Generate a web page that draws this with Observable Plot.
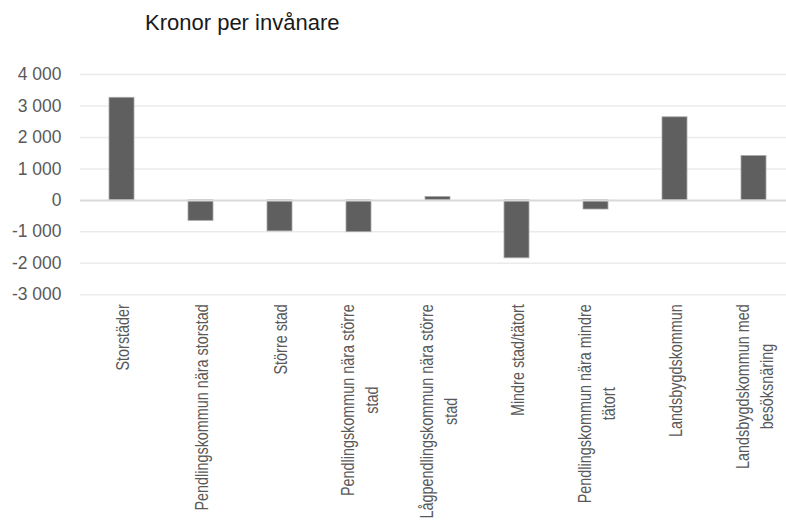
<!DOCTYPE html>
<html><head><meta charset="utf-8">
<script src="https://cdn.jsdelivr.net/npm/d3@7"></script>
<script src="https://cdn.jsdelivr.net/npm/@observablehq/plot@0.6"></script>
<style>
body{margin:0;background:#fff;}
#wrap{width:786px;height:523px;overflow:hidden;position:relative;}
#title{height:38px;padding-top:12px;padding-left:145px;font:22px/22px "Liberation Sans",Arial,sans-serif;color:#1a1a1a;box-sizing:content-box;}
svg{display:block;}
</style></head><body>
<div id="wrap"><div id="title">Kronor per invånare</div><div id="chart"></div></div>
<script>
const categories = [
  "Storstäder",
  "Pendlingskommun nära storstad",
  "Större stad",
  "Pendlingskommun nära större stad",
  "Lågpendlingskommun nära större stad",
  "Mindre stad/tätort",
  "Pendlingskommun nära mindre tätort",
  "Landsbygdskommun",
  "Landsbygdskommun med besöksnäring"
];
const tickLabels = [
  "Storstäder",
  "Pendlingskommun nära storstad",
  "Större stad",
  "Pendlingskommun nära större\nstad",
  "Lågpendlingskommun nära större\nstad",
  "Mindre stad/tätort",
  "Pendlingskommun nära mindre\ntätort",
  "Landsbygdskommun",
  "Landsbygdskommun med\nbesöksnäring"
];
const values = [3260, -650, -985, -1010, 110, -1840, -290, 2640, 1410];
const yTicks = [-3000, -2000, -1000, 0, 1000, 2000, 3000, 4000];

const data = categories.map((c, i) => ({category: c, value: values[i]}));
const fmt = d3.formatLocale({decimal: ",", thousands: " ", grouping: [3], currency: ["", ""], minus: "-"}).format(",");

const plot = Plot.plot({
  width: 786,
  height: 473,
  marginTop: 24,
  marginBottom: 228.7,
  marginLeft: 80,
  marginRight: 0,
  style: {fontFamily: "'Liberation Sans', Arial, sans-serif", background: "transparent"},
  x: {domain: categories, range: [80, 795.5], paddingInner: 0.686, paddingOuter: 0.343, align: 0.5, label: null},
  y: {domain: [-3000, 4000], label: null},
  marks: [
    Plot.ruleY(yTicks.filter(d => d !== 0), {stroke: "#ebebeb", strokeWidth: 1.5}),
    Plot.barY(data, {x: "category", y: "value", fill: "#5f5f5f", stroke: "#a8a8a8", strokeWidth: 0.8}),
    Plot.ruleY([0], {stroke: "#d9d9d9", strokeWidth: 2}),
    Plot.axisY({ticks: yTicks, tickFormat: fmt, tickSize: 0, tickPadding: 19, fontSize: 17.5, fill: "#595959", label: null}),
    Plot.axisX({tickSize: 0, tickFormat: d => tickLabels[categories.indexOf(d)], rotate: -90, label: null,
      textAnchor: "middle", lineAnchor: "middle", fontSize: 18, lineHeight: 1.3, fill: "#595959"})
  ]
});
document.getElementById("chart").append(plot);

const squeeze = 0.8;
const xs = plot.scale("x");
const yBottom = plot.scale("y").apply(-3000);
plot.querySelectorAll('g[aria-label="x-axis tick label"]').forEach(g => g.removeAttribute("transform"));
plot.querySelectorAll('g[aria-label="x-axis tick label"] text').forEach((t, i) => {
  const w = t.getBBox().width * squeeze;
  const cx = xs.apply(categories[i]) + xs.bandwidth / 2;
  t.setAttribute("transform", `translate(${cx},${yBottom + 9.8 + w / 2}) rotate(-90) scale(${squeeze},1)`);
});
</script>
</body></html>
